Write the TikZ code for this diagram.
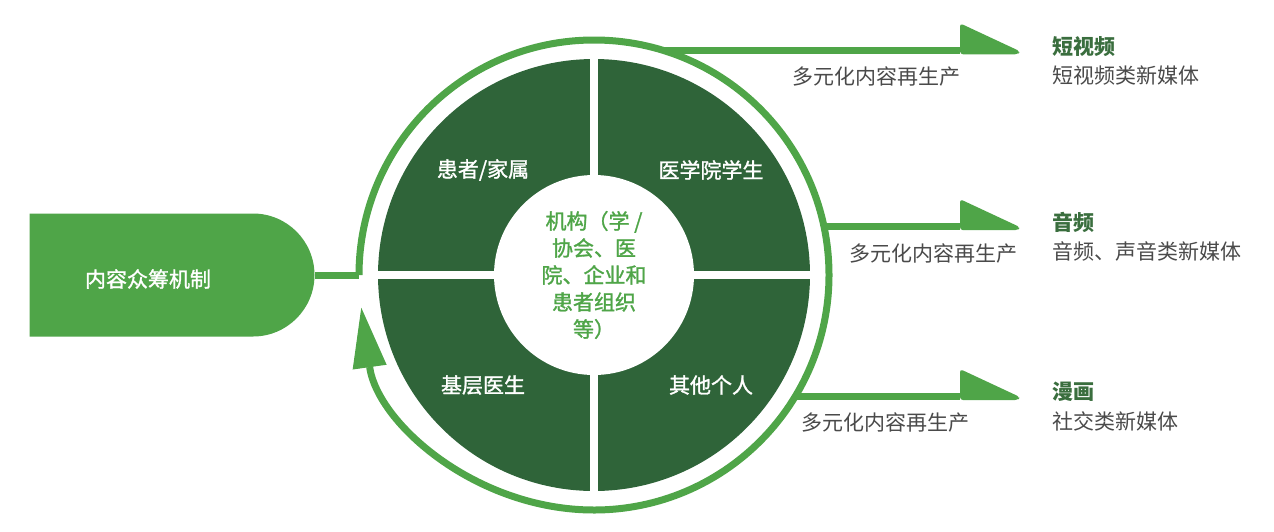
\documentclass[tikz,border=0pt]{standalone}
\usepackage{fontspec}
\setmainfont{Noto Sans CJK SC}
\newfontfamily\medfont[FakeBold=1.3]{Noto Sans CJK SC}
\usetikzlibrary{arrows.meta,calc,shapes.misc}
\definecolor{ringgreen}{HTML}{4FA548}
\definecolor{darkgreen}{HTML}{2F6439}
\definecolor{textgray}{HTML}{4A4A4A}
\definecolor{headgreen}{HTML}{3A6E3E}
\begin{document}
\begin{tikzpicture}[x=1pt,y=1pt,font=\fontsize{21}{27}\selectfont]
    \tikzstyle{flow}=[color=ringgreen,line width=7pt]
    \tikzstyle{quarter}=[text=white,inner sep=0pt,font=\fontsize{21}{27}\medfont]
    \tikzstyle{media}=[anchor=west,inner sep=0pt]
    \useasboundingbox (0,0) rectangle (1274,-531);

    \node[circle,minimum size=470pt,inner sep=0pt,outer sep=0pt] (ring) at (594,-275) {};
    \fill[darkgreen] (ring.center) circle[radius=216pt];
    \draw[white,line width=8pt] ($(ring.center)+(0,218)$) -- ($(ring.center)+(0,-218)$);
    \draw[white,line width=8pt] ($(ring.center)+(-218,0)$) -- ($(ring.center)+(218,0)$);
    \node[circle,fill=white,minimum size=200pt,inner sep=0pt,text=ringgreen,align=center,font=\fontsize{21}{27}\medfont] (org) at (ring.center) {机构（学 /\\协会、医\\院、企业和\\患者组织\\等）};

    \foreach \x/\y/\t/\n in {-111/105/{患者/家属}/q1, 117/105/医学院学生/q2, -111/-110/基层医生/q3, 117/-110/其他个人/q4}
    \node[quarter] (\n) at ($(ring.center)+(\x,\y)$) {\t};

    \node[rounded rectangle,rounded rectangle west arc=none,fill=ringgreen,minimum width=285pt,minimum height=123pt,inner sep=0pt] (crowd) at (172,-275) {};
    \node[quarter] (crowdtext) at ($(crowd.center)+(-24,-4)$) {内容众筹机制};
    \draw[flow] (crowd.east) -- (ring.west);
    \draw[flow,-{Triangle[length=60pt,width=34pt,line width=1pt,fill=ringgreen]}] (ring.180) arc[start angle=180,end angle=-172,radius=235pt];

    \foreach \a/\y/\n in {73/50/1,12/226/2,-31/396/3} {
      \coordinate (h\n) at (960,-\y);
      \coordinate (e\n) at (ring.\a -| h\n);
      \draw[flow] (ring.\a) -- (e\n);
      \fill[ringgreen,rounded corners=3pt] ($(e\n)+(0,-4)$) -- ++(0,31) -- ++(60,-28) -- ++(-2,-3) -- cycle;
    }

    \foreach \n/\x/\y/\h/\d in {1/876/77/短视频/短视频类新媒体, 2/933/254/音频/音频、声音类新媒体, 3/885/423/漫画/社交类新媒体} {
      \node[text=textgray] (r\n) at (\x,-\y) {多元化内容再生产};
      \node[media,text=headgreen,font=\fontsize{21}{27}\selectfont\bfseries] (m\n) at ($(e\n)+(92,4)$) {\h};
      \node[media,text=textgray] (d\n) at ($(e\n)+(92,-25)$) {\d};
    }
\end{tikzpicture}
\end{document}
